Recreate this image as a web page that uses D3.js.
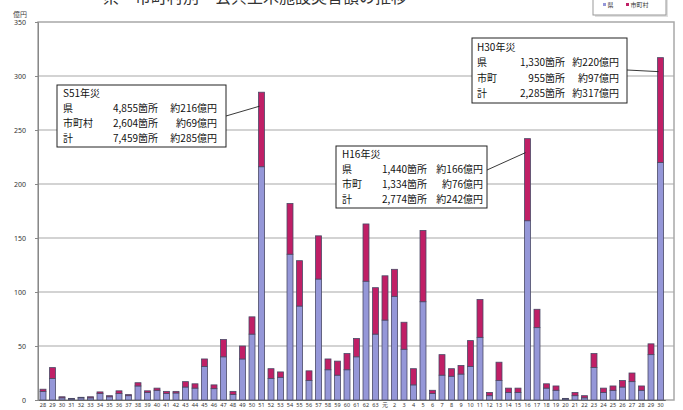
<!DOCTYPE html>
<html lang="ja">
<head>
<meta charset="utf-8">
<script src="https://cdn.jsdelivr.net/npm/d3@7/dist/d3.min.js"></script>
<style>
  html, body { margin: 0; padding: 0; background: #fff; }
  svg { display: block; font-family: "Noto Sans CJK JP", "Noto Sans", sans-serif; }
</style>
</head>
<body>
<svg id="chart" width="683" height="410"></svg>
<script>
// 年度ラベル（昭和28年〜昭和63年、平成元年〜平成30年）
const years = [
  "S28","S29","S30","S31","S32","S33","S34","S35","S36","S37","S38","S39",
  "S40","S41","S42","S43","S44","S45","S46","S47","S48","S49","S50","S51",
  "S52","S53","S54","S55","S56","S57","S58","S59","S60","S61","S62","S63",
  "H1","H2","H3","H4","H5","H6","H7","H8","H9","H10","H11","H12","H13","H14",
  "H15","H16","H17","H18","H19","H20","H21","H22","H23","H24","H25","H26",
  "H27","H28","H29","H30"
];
// 軸に表示する年の数字
const yearTicks = [
  "28","29","30","31","32","33","34","35","36","37","38","39",
  "40","41","42","43","44","45","46","47","48","49","50","51",
  "52","53","54","55","56","57","58","59","60","61","62","63",
  "元","2","3","4","5","6","7","8","9","10","11","12","13","14",
  "15","16","17","18","19","20","21","22","23","24","25","26",
  "27","28","29","30"
];
// 県の被害額（億円）
const kenValues = [
  8,20,2,1,2,2,6,3,6,4,13,7,
  9,6,6.5,12,11,31,10.5,40,5,38,61,216,
  20,21,135,87,18,112,28,23,28,40,110,61,
  74,96,47,14,91,6,23,22,24,31,58,4,18,7,
  7,166,67,11,9,1,4,2,30,7,9,12,17,9,42,220
];
// 市町村の被害額（億円）
const shiValues = [
  2,10,1,0.5,0.5,1,1.5,1,2.5,1,3,1.5,
  2,2,1.5,5,4,7,3.5,16,3,12,16,69,
  9,5,47,42,9,40,10,13,15,17,53,43,
  41,25,25,15,66,3,19,7,8,24,35,3,17,4,
  4,76,17,4,4,0.5,3,2,13,4,4,6,8,4,10,97
];
const yTicks = [0,50,100,150,200,250,300,350];

// 注記ボックス（年災の内訳）
const notes = [
  { year: "S51", title: "S51年災",
    rows: [["県","4,855箇所","約216億円"],["市町村","2,604箇所","約69億円"],["計","7,459箇所","約285億円"]] },
  { year: "H16", title: "H16年災",
    rows: [["県","1,440箇所","約166億円"],["市町","1,334箇所","約76億円"],["計","2,774箇所","約242億円"]] },
  { year: "H30", title: "H30年災",
    rows: [["県","1,330箇所","約220億円"],["市町","955箇所","約97億円"],["計","2,285箇所","約317億円"]] }
];
const noteTotals = { S51: 285, H16: 242, H30: 317 };

const seriesNames = ["県","市町村"];
const colors = { "県": "#9597d8", "市町村": "#c01f66" };

(function draw() {
  const svg = d3.select("#chart");
  const pL = 38, pR = 674, pT = 22, pB = 400;

  const x = d3.scaleBand().domain(years).range([38.25, 665.25])
    .paddingInner(0.37).paddingOuter(0.185);
  const y = d3.scaleLinear().domain([0, 350]).range([pB, pT]);

  // 表題（上端で切れている）
  svg.append("text").attr("x", 255).attr("y", 2.5).attr("text-anchor", "middle")
    .attr("font-size", 16).attr("fill", "#333")
    .text("県・市町村別　公共土木施設災害額の推移");

  // 単位
  svg.append("text").attr("x", 13).attr("y", 17).attr("font-size", 7).attr("fill", "#444").text("億円");

  // 凡例
  const lg = svg.append("g");
  lg.append("rect").attr("x", 595).attr("y", -6).attr("width", 73).attr("height", 23)
    .attr("fill", "#ccc").attr("opacity", 0.6);
  lg.append("rect").attr("x", 593).attr("y", -8).attr("width", 73).attr("height", 23)
    .attr("fill", "#fff").attr("stroke", "#999").attr("stroke-width", 1);
  [["県", 603], ["市町村", 626]].forEach(([name, lx]) => {
    lg.append("rect").attr("x", lx).attr("y", 3).attr("width", 3).attr("height", 3).attr("fill", colors[name]);
    lg.append("text").attr("x", lx + 4.5).attr("y", 7).attr("font-size", 6).attr("fill", "#333").text(name);
  });

  // 目盛線
  svg.append("g").selectAll("line").data(yTicks.filter(t => t > 0 && t < 350)).join("line")
    .attr("x1", pL).attr("x2", pR).attr("y1", d => y(d)).attr("y2", d => y(d))
    .attr("stroke", "#c4c4c4").attr("stroke-width", 1.5);

  // 枠
  svg.append("rect").attr("x", pL).attr("y", pT).attr("width", pR - pL).attr("height", pB - pT)
    .attr("fill", "none").attr("stroke", "#a8a8a8").attr("stroke-width", 1.5);

  // Y軸
  const yAxis = d3.axisLeft(y).tickValues(yTicks).tickSize(3).tickPadding(9);
  const ya = svg.append("g").attr("transform", `translate(${pL},0)`).call(yAxis);
  ya.select(".domain").attr("stroke", "#888");
  ya.selectAll(".tick line").attr("stroke", "#888");
  ya.selectAll(".tick text").attr("font-size", 7).attr("fill", "#333").attr("font-family", "'Noto Sans', sans-serif");

  // 積み上げ棒
  const table = years.map((yr, i) => ({ year: yr, "県": kenValues[i], "市町村": shiValues[i] }));
  const stack = d3.stack().keys(seriesNames)(table);
  svg.append("g").selectAll("g").data(stack).join("g")
    .attr("fill", d => colors[d.key])
    .selectAll("rect").data(d => d).join("rect")
    .attr("x", d => x(d.data.year))
    .attr("width", x.bandwidth())
    .attr("y", d => y(d[1]))
    .attr("height", d => Math.max(0, y(d[0]) - y(d[1])))
    .attr("stroke", "#4a4a66").attr("stroke-width", 0.8);

  // X軸
  const xAxis = d3.axisBottom(x).tickSize(0).tickPadding(3)
    .tickFormat((d, i) => yearTicks[i]);
  const xa = svg.append("g").attr("transform", `translate(0,${pB})`).call(xAxis);
  xa.select(".domain").attr("stroke", "#666");
  xa.selectAll(".tick text").attr("font-size", 5.5).attr("fill", "#333")
    .attr("font-family", "'Noto Sans', sans-serif");

  // 注記ボックス
  const boxes = {
    S51: { x: 57, y: 85, w: 169, h: 62, cx: [63, 158, 217], lead: [226, 116] },
    H16: { x: 336, y: 146, w: 151, h: 62, cx: [342, 427, 483], lead: [487, 170] },
    H30: { x: 472, y: 38, w: 155, h: 65, cx: [477, 565, 619], lead: [627, 70] }
  };
  notes.forEach(n => {
    const b = boxes[n.year];
    const g = svg.append("g");
    const bx = x(n.year) + x.bandwidth() / 2;
    g.append("line").attr("x1", b.lead[0]).attr("y1", b.lead[1])
      .attr("x2", bx - 2).attr("y2", y(noteTotals[n.year]) + 14)
      .attr("stroke", "#222").attr("stroke-width", 0.9);
    g.append("rect").attr("x", b.x).attr("y", b.y).attr("width", b.w).attr("height", b.h)
      .attr("fill", "#fff").attr("stroke", "#222").attr("stroke-width", 1);
    const lh = (b.h - 3) / 4;
    const fs = 10;
    const baseOff = lh * 0.5 + fs * 0.36;
    const t = g.append("text").attr("font-size", fs).attr("fill", "#111");
    t.append("tspan").attr("x", b.cx[0]).attr("y", b.y + 1.5 + baseOff).text(n.title);
    n.rows.forEach((r, i) => {
      const ty = b.y + 1.5 + lh * (i + 1) + baseOff;
      t.append("tspan").attr("x", b.cx[0]).attr("y", ty).text(r[0]);
      t.append("tspan").attr("x", b.cx[1]).attr("y", ty).attr("text-anchor", "end").text(r[1]);
      t.append("tspan").attr("x", b.cx[2]).attr("y", ty).attr("text-anchor", "end").text(r[2]);
    });
  });
})();
</script>
</body>
</html>
